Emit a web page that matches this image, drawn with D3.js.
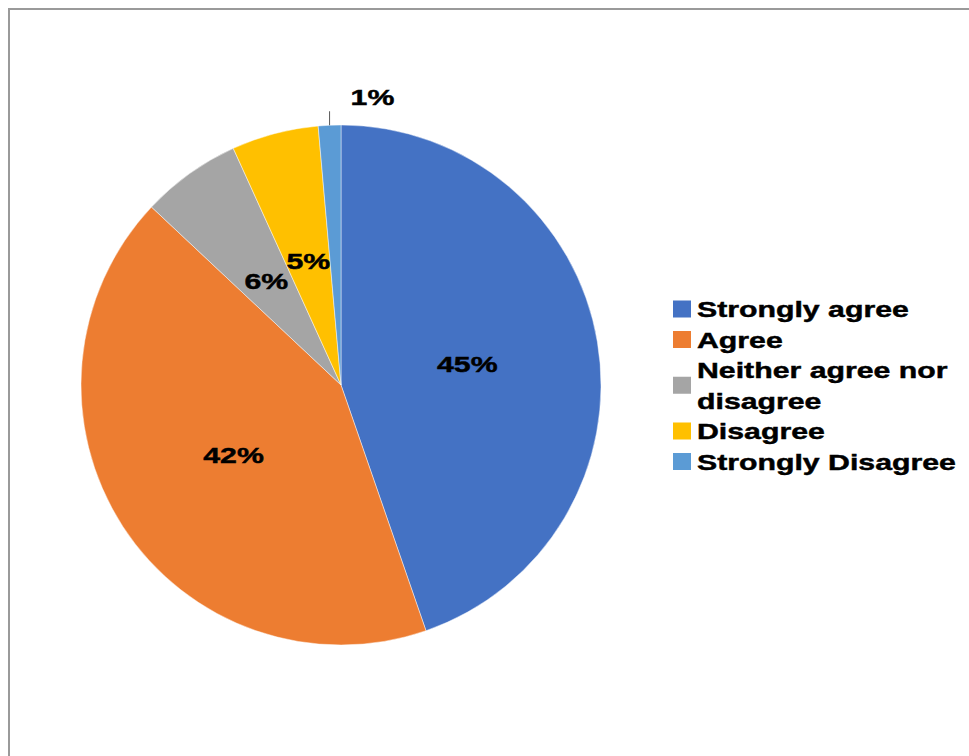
<!DOCTYPE html>
<html><head><meta charset="utf-8">
<script src="https://cdn.jsdelivr.net/npm/d3@7"></script>
<style>html,body{margin:0;padding:0;background:#fff;}svg{display:block;}</style>
</head><body>
<script>
const categories = ["Strongly agree", "Agree", "Neither agree nor disagree", "Disagree", "Strongly Disagree"];
const legendLines = [["Strongly agree"], ["Agree"], ["Neither agree nor", "disagree"], ["Disagree"], ["Strongly Disagree"]];
const values = [44.7, 42.3, 6.2, 5.4, 1.4];
const colors = ["#4472C4", "#ED7D31", "#A5A5A5", "#FFC000", "#5B9BD5"];

const W = 969, H = 756;
const svg = d3.select("body").append("svg").attr("width", W).attr("height", H);
svg.append("rect").attr("width", W).attr("height", H).attr("fill", "#fff");
// frame
svg.append("path").attr("d", "M9,760 L9,9 L975,9").attr("fill", "none").attr("stroke", "#9a9a9a").attr("stroke-width", 2);

const cx = 341, cy = 385, R = 260;
const SX = 1.345;
const font = "'Liberation Sans', Arial, sans-serif";

const pie = d3.pie().sort(null).value(d => d);
const arcs = pie(values);
const arc = d3.arc().innerRadius(0).outerRadius(R);
const labelArc = d3.arc().innerRadius(0).outerRadius(R * 0.985);

const g = svg.append("g").attr("transform", `translate(${cx},${cy})`);
g.selectAll("path.slice").data(arcs).enter().append("path")
  .attr("class", "slice")
  .attr("d", arc)
  .attr("fill", (d, i) => colors[i])
  .attr("stroke", "#ffffff").attr("stroke-width", 1).attr("stroke-opacity", 0.45);

const fmt = v => Math.round(v) + "%";
const styleText = t => t.attr("font-family", font).attr("font-weight", "bold").attr("font-size", 22.5)
  .attr("fill", "#000").attr("stroke", "#000").attr("stroke-width", 0.45);

arcs.forEach((d, i) => {
  const mid = (d.startAngle + d.endAngle) / 2;
  if (values[i] < 3) {
    const px = Math.sin(mid) * R, py = -Math.cos(mid) * R;
    g.append("line").attr("x1", px).attr("y1", py).attr("x2", px).attr("y2", py - 14)
      .attr("stroke", "#595959").attr("stroke-width", 1);
    styleText(g.append("text").attr("transform", `translate(${px + 21},${py - 20}) scale(${SX},1)`))
      .text(fmt(values[i]));
  } else {
    const [x, y] = labelArc.centroid(d);
    styleText(g.append("text").attr("transform", `translate(${x},${y}) scale(${SX},1)`)
      .attr("text-anchor", "middle").attr("dy", "0.36em"))
      .text(fmt(values[i]));
  }
});

// legend
const lx = 673, textX = 697, lineH = 30.5, y0 = 317;
const leg = svg.append("g");
let line = 0;
legendLines.forEach((lines, i) => {
  const firstBase = y0 + line * lineH;
  const lastBase = firstBase + (lines.length - 1) * lineH;
  const midY = (firstBase + lastBase) / 2 - 8;
  leg.append("rect").attr("x", lx).attr("y", midY - 8.5).attr("width", 18).attr("height", 17)
    .attr("fill", colors[i]);
  lines.forEach((t, j) => {
    styleText(leg.append("text").attr("transform", `translate(${textX},${firstBase + j * lineH}) scale(${SX},1)`))
      .text(t);
  });
  line += lines.length;
});
</script>
</body></html>
